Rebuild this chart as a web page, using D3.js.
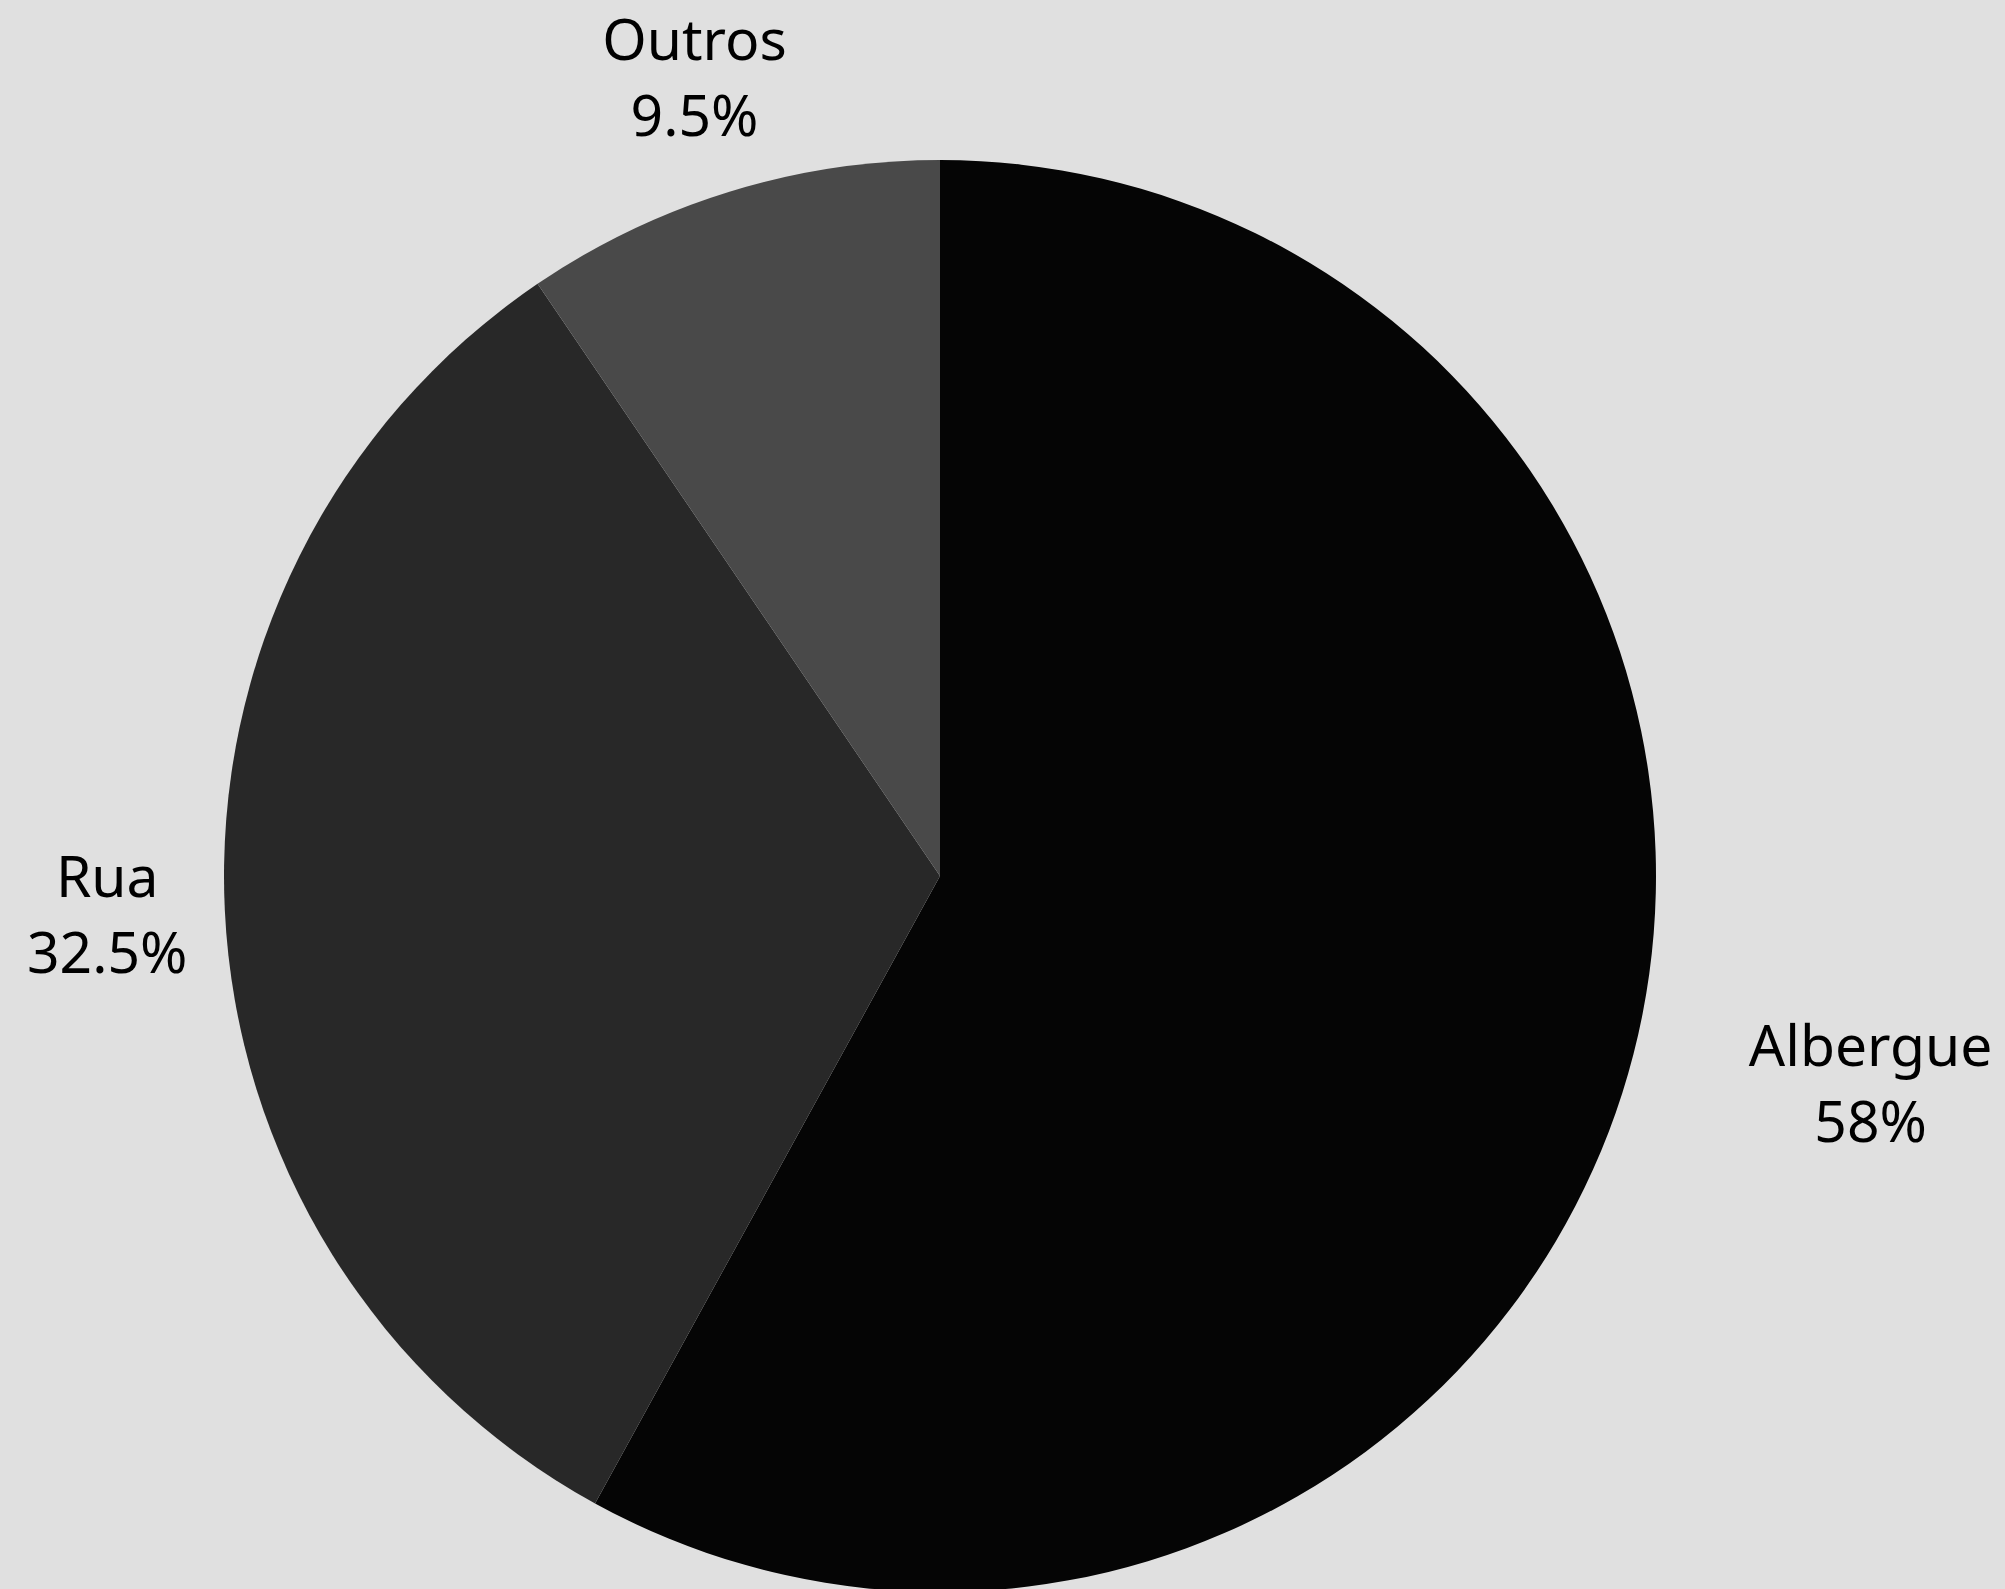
<!DOCTYPE html>
<html>
<head>
<meta charset="utf-8">
<script src="https://cdn.jsdelivr.net/npm/d3@7/dist/d3.min.js"></script>
<style>
  html, body { margin: 0; padding: 0; background: #e0e0e0; }
  svg { display: block; }
</style>
</head>
<body>
<svg id="chart" width="2005" height="1589"></svg>
<script>
const categories = ["Albergue", "Rua", "Outros"];
const values = [58, 32.5, 9.5];
const valueLabels = ["58%", "32.5%", "9.5%"];
const colors = ["#050505", "#282828", "#494949"];

const W = 2005, H = 1589;
const cx = 940, cy = 876, R = 716, labelR = 835;
const fontSize = 57;

const svg = d3.select("#chart");
svg.append("rect").attr("width", W).attr("height", H).attr("fill", "#e0e0e0");

const data = categories.map((c, i) => ({ name: c, value: values[i], label: valueLabels[i], color: colors[i] }));

const pie = d3.pie().value(d => d.value).sort(null);
const arcs = pie(data);
const arc = d3.arc().innerRadius(0).outerRadius(R);
const labelArc = d3.arc().innerRadius(labelR).outerRadius(labelR);

const g = svg.append("g").attr("transform", `translate(${cx},${cy})`);

g.selectAll("path.slice")
  .data(arcs)
  .join("path")
  .attr("class", "slice")
  .attr("d", arc)
  .attr("fill", d => d.data.color);

const labels = g.selectAll("text.lbl")
  .data(arcs)
  .join("text")
  .attr("class", "lbl")
  .attr("font-family", "'Noto Sans', 'Open Sans', sans-serif")
  .attr("font-size", fontSize)
  .attr("fill", "#000");

labels.each(function(d) {
  const [x, y] = labelArc.centroid(d);
  const mid = (d.startAngle + d.endAngle) / 2;
  const rightSide = Math.sin(mid) > 0.5;
  const t = d3.select(this)
    .attr("text-anchor", rightSide ? "start" : "middle");
  t.append("tspan").attr("x", x).attr("y", y - 18).text(d.data.name);
  t.append("tspan").attr("x", x).attr("y", y + 58).text(d.data.label);
  // center the value under the name for start-anchored labels
  if (rightSide) {
    const nameW = t.select("tspan").node().getComputedTextLength();
    t.attr("text-anchor", "middle");
    t.selectAll("tspan").attr("x", x + nameW / 2);
  }
});

// keep labels inside canvas
labels.each(function() {
  const bb = this.getBBox();
  const left = bb.x + cx;
  const margin = 27;
  if (left < margin) {
    d3.select(this).selectAll("tspan").attr("x", function() { return +d3.select(this).attr("x") + (margin - left); });
  }
});
</script>
</body>
</html>
